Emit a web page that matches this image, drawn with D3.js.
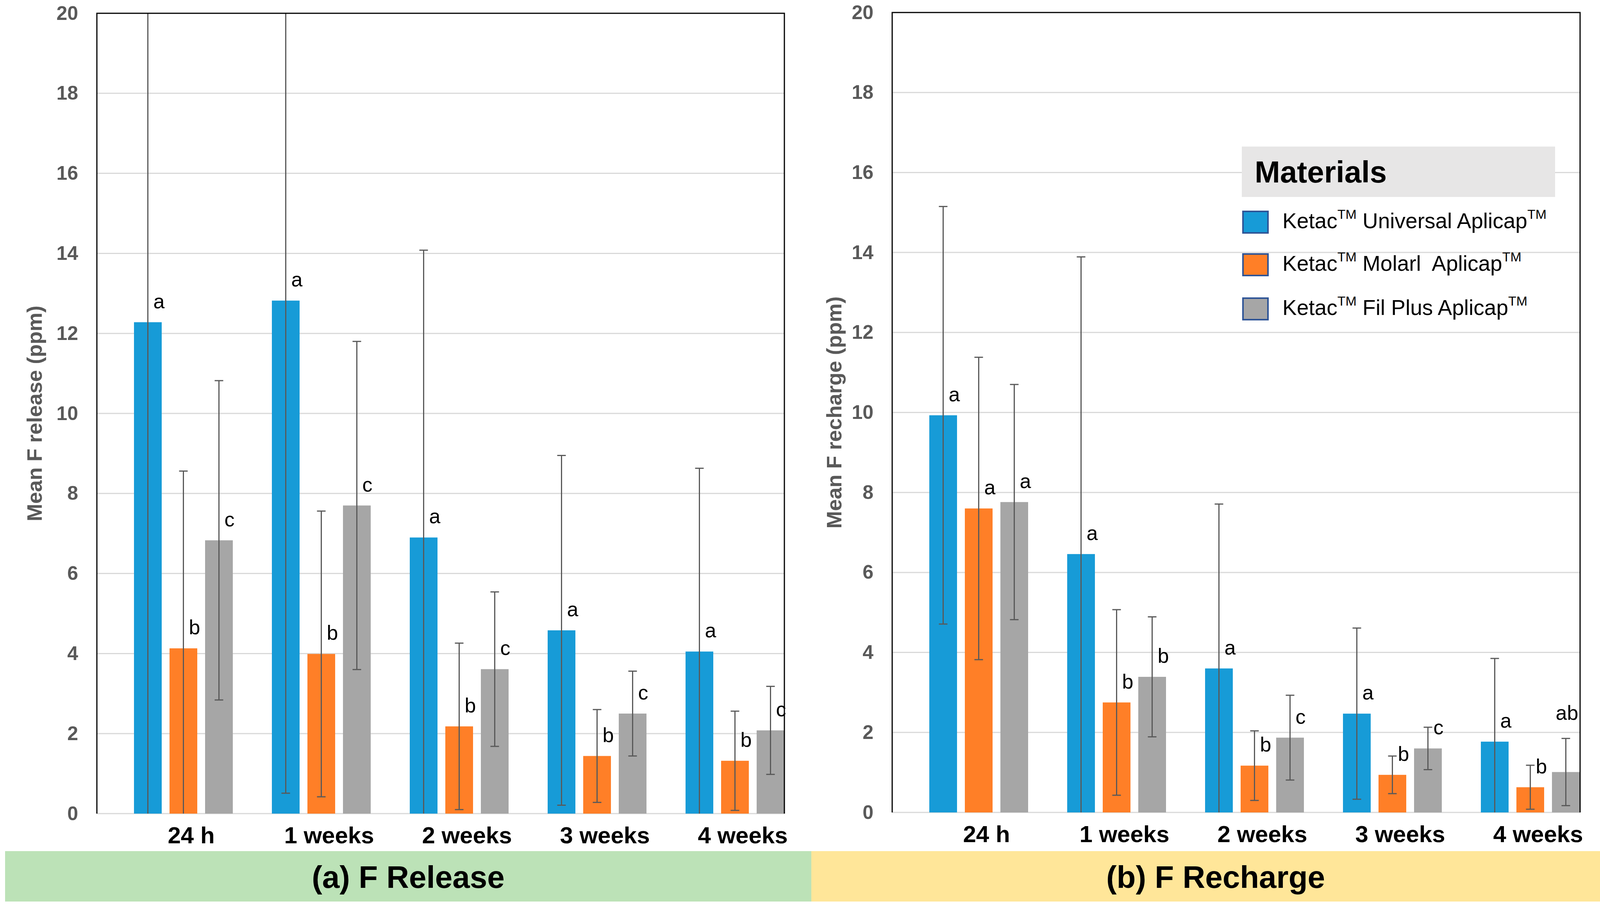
<!DOCTYPE html>
<html>
<head>
<meta charset="utf-8">
<script src="https://cdn.jsdelivr.net/npm/d3@7"></script>
<style>
  html, body { margin: 0; padding: 0; background: #fff; overflow: hidden; }
  text { font-family: "Liberation Sans", Arial, sans-serif; }
</style>
</head>
<body>
<script>
// ---------------- DATA ----------------
const categories = ["24 h", "1 weeks", "2 weeks", "3 weeks", "4 weeks"];
const materials = ["Ketac\u2122 Universal Aplicap\u2122", "Ketac\u2122 Molarl  Aplicap\u2122", "Ketac\u2122 Fil Plus Aplicap\u2122"];
const yTicks = [0, 2, 4, 6, 8, 10, 12, 14, 16, 18, 20];

// F release (ppm): mean and SD per material
const releaseUniversal = [12.28, 12.82, 6.90, 4.58, 4.05];
const releaseMolar     = [4.13, 3.99, 2.18, 1.44, 1.32];
const releaseFilPlus   = [6.83, 7.70, 3.61, 2.50, 2.08];
const releaseUniversalSD = [12.9, 12.31, 7.18, 4.37, 4.58];
const releaseMolarSD     = [4.43, 3.57, 2.08, 1.16, 1.24];
const releaseFilPlusSD   = [3.99, 4.10, 1.93, 1.06, 1.10];
const releaseUniversalSig = ["a", "a", "a", "a", "a"];
const releaseMolarSig     = ["b", "b", "b", "b", "b"];
const releaseFilPlusSig   = ["c", "c", "c", "c", "c"];

// F recharge (ppm)
const rechargeUniversal = [9.93, 6.46, 3.60, 2.47, 1.77];
const rechargeMolar     = [7.60, 2.75, 1.17, 0.94, 0.63];
const rechargeFilPlus   = [7.76, 3.39, 1.87, 1.60, 1.01];
const rechargeUniversalSD = [5.22, 7.43, 4.11, 2.14, 2.08];
const rechargeMolarSD     = [3.78, 2.32, 0.87, 0.47, 0.55];
const rechargeFilPlusSD   = [2.94, 1.50, 1.06, 0.53, 0.84];
const rechargeUniversalSig = ["a", "a", "a", "a", "a"];
const rechargeMolarSig     = ["a", "b", "b", "b", "b"];
const rechargeFilPlusSig   = ["a", "b", "c", "c", "ab"];

// ---------------- STYLE / LAYOUT ----------------
const W = 4162, H = 2321;
const colors = ["#179bd7", "#ff7f27", "#a6a6a6"];
const FONT = '"Liberation Sans", Arial, sans-serif';

const panels = [
  {
    means: [releaseUniversal, releaseMolar, releaseFilPlus],
    sds: [releaseUniversalSD, releaseMolarSD, releaseFilPlusSD],
    sig: [releaseUniversalSig, releaseMolarSig, releaseFilPlusSig],
    title: "Mean F release (ppm)",
    left: 248, right: 2008, top: 34, bottom: 2082, titleX: 107,
    banner: { x0: 13, x1: 2077, fill: "#bce2b7", text: "(a) F Release" },
    legend: false
  },
  {
    means: [rechargeUniversal, rechargeMolar, rechargeFilPlus],
    sds: [rechargeUniversalSD, rechargeMolarSD, rechargeFilPlusSD],
    sig: [rechargeUniversalSig, rechargeMolarSig, rechargeFilPlusSig],
    title: "Mean F recharge (ppm)",
    left: 2284, right: 4045, top: 32, bottom: 2079, titleX: 2154,
    banner: { x0: 2077, x1: 4147, fill: "#ffe699", text: "(b) F Recharge" },
    legend: true
  }
];

const svg = d3.select("body").append("svg")
  .attr("width", W).attr("height", H)
  .attr("viewBox", `0 0 ${W} ${H}`);
svg.append("rect").attr("width", W).attr("height", H).attr("fill", "#fff");

panels.forEach((p, pi) => {
  const g = svg.append("g");
  const y = d3.scaleLinear().domain([0, 20]).range([p.bottom, p.top]);
  const groupStart = p.left + 95;
  const x0 = d3.scaleBand().domain(categories)
    .range([groupStart, groupStart + 4 * 353 + 253])
    .paddingInner(100 / 353).paddingOuter(0);
  const x1 = d3.scaleBand().domain(d3.range(materials.length))
    .range([0, x0.bandwidth()]).paddingInner(0.22).paddingOuter(0);

  // gridlines
  g.append("g").selectAll("line").data(yTicks.filter(t => t < 20)).join("line")
    .attr("x1", p.left).attr("x2", p.right)
    .attr("y1", d => y(d)).attr("y2", d => y(d))
    .attr("stroke", "#d9d9d9").attr("stroke-width", 3);

  // y axis tick labels
  const yAxis = d3.axisLeft(y).tickValues(yTicks).tickSize(0).tickPadding(48).tickFormat(d3.format("d"));
  const ya = g.append("g").attr("transform", `translate(${p.left},0)`).call(yAxis);
  ya.select(".domain").remove();
  ya.selectAll("text").attr("font-family", FONT).attr("font-size", 50)
    .attr("font-weight", "bold").attr("fill", "#595959");

  // y axis title
  g.append("text")
    .attr("transform", `translate(${p.titleX},${(p.top + p.bottom) / 2}) rotate(-90)`)
    .attr("text-anchor", "middle")
    .attr("font-size", 54).attr("font-weight", "bold").attr("fill", "#595959")
    .text(p.title);

  // bars
  const rows = [];
  categories.forEach((c, ci) => {
    materials.forEach((m, si) => {
      rows.push({ c, si, v: p.means[si][ci], sd: p.sds[si][ci], sig: p.sig[si][ci] });
    });
  });
  const cx = d => x0(d.c) + x1(d.si) + x1.bandwidth() / 2;

  g.append("g").selectAll("rect").data(rows).join("rect")
    .attr("x", d => x0(d.c) + x1(d.si))
    .attr("width", x1.bandwidth())
    .attr("y", d => y(d.v))
    .attr("height", d => y(0) - y(d.v))
    .attr("fill", d => colors[d.si]);

  // error bars (clipped to axis range)
  const eb = g.append("g").attr("stroke", "#595959").attr("stroke-width", 3);
  const capW = 11;
  rows.forEach(d => {
    const lo = d.v - d.sd, hi = d.v + d.sd;
    const yl = y(Math.max(0, lo)), yh = y(Math.min(20, hi));
    eb.append("line").attr("x1", cx(d)).attr("x2", cx(d)).attr("y1", yl).attr("y2", yh);
    if (hi <= 20) eb.append("line").attr("x1", cx(d) - capW).attr("x2", cx(d) + capW).attr("y1", y(hi)).attr("y2", y(hi));
    if (lo >= 0) eb.append("line").attr("x1", cx(d) - capW).attr("x2", cx(d) + capW).attr("y1", y(lo)).attr("y2", y(lo));
  });

  // significance letters
  g.append("g").selectAll("text").data(rows).join("text")
    .attr("x", d => d.sig.length > 1 ? cx(d) + 3 : cx(d) + 14)
    .attr("y", d => d.sig.length > 1 ? y(d.v + d.sd) - 48 : y(d.v) - 36)
    .attr("text-anchor", d => d.sig.length > 1 ? "middle" : "start")
    .attr("font-size", 52).attr("fill", "#000")
    .text(d => d.sig);

  // frame: left, top, right in black
  const fr = g.append("g").attr("stroke", "#000").attr("stroke-width", 3).attr("fill", "none");
  fr.append("path").attr("d", `M${p.left},${p.bottom}V${p.top}H${p.right}V${p.bottom}`);

  // category labels
  g.append("g").selectAll("text").data(categories).join("text")
    .attr("x", d => x0(d) + x0.bandwidth() / 2 + 20)
    .attr("y", p.bottom + 76)
    .attr("text-anchor", "middle")
    .attr("font-size", 60).attr("font-weight", "bold").attr("fill", "#000")
    .text(d => d);

  // banner
  svg.append("rect").attr("x", p.banner.x0).attr("y", 2178)
    .attr("width", p.banner.x1 - p.banner.x0).attr("height", 129)
    .attr("fill", p.banner.fill);
  svg.append("text").attr("x", (p.banner.x0 + p.banner.x1) / 2).attr("y", 2272)
    .attr("text-anchor", "middle").attr("font-size", 80).attr("font-weight", "bold")
    .attr("fill", "#000").text(p.banner.text);

  // legend
  if (p.legend) {
    const lg = svg.append("g");
    lg.append("rect").attr("x", 3179).attr("y", 375).attr("width", 802).attr("height", 129)
      .attr("fill", "#e7e6e6");
    lg.append("text").attr("x", 3212).attr("y", 467).attr("font-size", 78)
      .attr("font-weight", "bold").attr("fill", "#000").text("Materials");
    const rowTops = [541, 650, 763];
    materials.forEach((m, i) => {
      lg.append("rect").attr("x", 3182).attr("y", rowTops[i]).attr("width", 64).attr("height", 55)
        .attr("fill", colors[i]).attr("stroke", "#2f5597").attr("stroke-width", 4);
      const t = lg.append("text").attr("x", 3283).attr("y", rowTops[i] + 43)
        .attr("font-size", 55).attr("fill", "#000").style("white-space", "pre");
      const parts = m.split("\u2122");
      parts.forEach((part, k) => {
        if (part.length) t.append("tspan").attr("dy", k > 0 ? 24 : null).text(part);
        if (k < parts.length - 1) t.append("tspan").attr("dy", -24)
          .attr("font-size", 34).text("TM");
      });
    });
  }
});
</script>
</body>
</html>
